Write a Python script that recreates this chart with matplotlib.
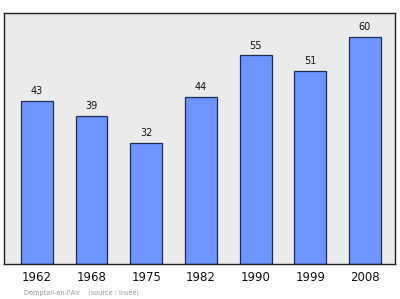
import matplotlib
matplotlib.use('Agg')
import matplotlib.pyplot as plt

years = ['1962', '1968', '1975', '1982', '1990', '1999', '2008']
population = [43, 39, 32, 44, 55, 51, 60]
commune = "Domptail-en-l'Air"
source = "(source : Insee)"


def plot_population(years, population):
    """Bar chart of population by census year."""
    fig = plt.figure(figsize=(4.0, 2.99), dpi=100)
    fig.patch.set_facecolor('white')
    ax = fig.add_axes([0.01, 0.117, 0.9775, 0.8395])
    ax.set_facecolor('#ebebeb')

    pos = list(range(len(years)))
    ax.bar(pos, population, width=0.585, color='#7094ff',
           edgecolor='#1a2a5a', linewidth=0.9, zorder=2)
    for x, v in zip(pos, population):
        ax.text(x, v + 1.3, str(v), ha='center', va='bottom', fontsize=7, color='#111111')

    ax.set_xlim(-0.6, 6.55)
    ax.set_ylim(0, 66.2)
    ax.set_yticks([])
    ax.set_xticks(pos)
    ax.set_xticklabels(years, fontsize=8.5, color='#111111')
    ax.tick_params(axis='x', length=0, pad=5)
    for side in ax.spines.values():
        side.set_color('#222222')
        side.set_linewidth(1.0)

    fig.text(0.06, 0.02, commune + "    " + source, fontsize=4.7, color='#999999',
             ha='left', va='center')
    fig.savefig('out.png', dpi=100)


def main():
    plot_population(years, population)


if __name__ == '__main__':
    main()
